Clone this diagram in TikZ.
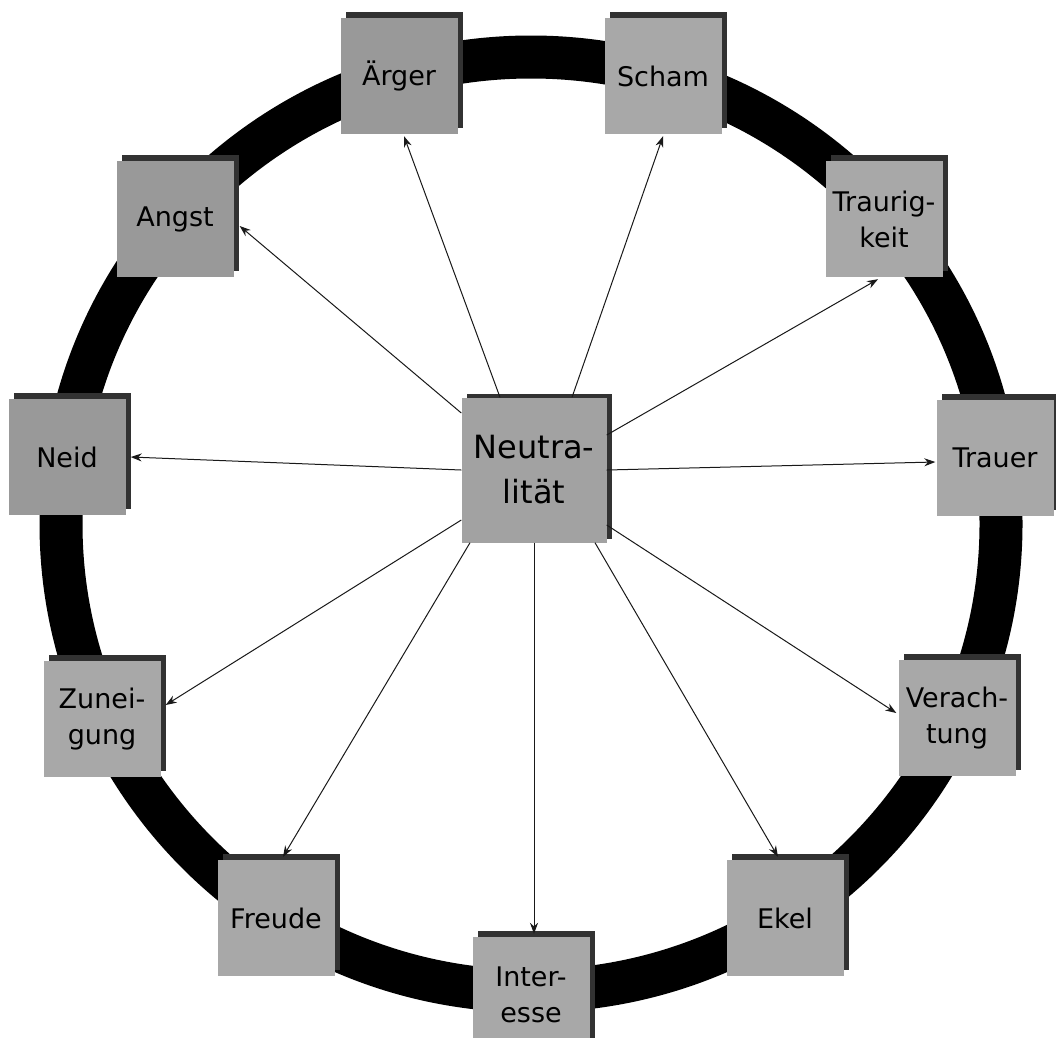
\documentclass[tikz,border=0pt]{standalone}
\usepackage{fontspec}
\setmainfont{DejaVu Sans}
\usetikzlibrary{shadows,arrows.meta,calc}
\definecolor{boxdark}{RGB}{153,153,153}
\definecolor{boxlight}{RGB}{168,168,168}
\definecolor{boxmid}{RGB}{162,162,162}
\definecolor{shadecol}{RGB}{50,50,50}
\begin{document}
\begin{tikzpicture}[x=1pt,y=-1pt,
  emobox/.style={rectangle, fill=boxlight, minimum width=117pt, minimum height=116pt,
    inner sep=0pt, align=center, font=\fontsize{27}{36}\selectfont,
    general shadow={fill=shadecol, shadow xshift=5pt, shadow yshift=6pt}},
  darkbox/.style={emobox, fill=boxdark},
  centerbox/.style={rectangle, fill=boxmid, minimum width=145pt, minimum height=145pt,
    inner sep=0pt, align=center, font=\fontsize{32}{45}\selectfont,
    general shadow={fill=shadecol, shadow xshift=5pt, shadow yshift=4pt}},
  arr/.style={-{Stealth[length=11pt,width=8pt]}, line width=1pt, draw=black!90},
  ring/.style={line width=43pt, draw=black}
]
\useasboundingbox (0,0) rectangle (1056,1037);
\clip (0,0) rectangle (1056,1037);
\fill[white] (0,0) rectangle (1056,1037);

\draw[ring] (531,524) ellipse [x radius=470pt, y radius=467pt];

\node[darkbox] (arg) at (399,76) {Ärger};
\node[emobox] (scham) at (663,76) {Scham};
\node[darkbox] (angst) at (175,219) {Angst};
\node[emobox] (traurig) at (884,219) {Traurig-\\keit};
\node[darkbox] (neid) at (67,457) {Neid};
\node[emobox] (trauer) at (995,458) {Trauer};
\node[emobox] (zun) at (102,719) {Zunei-\\gung};
\node[emobox] (ver) at (957,718) {Verach-\\tung};
\node[emobox] (freude) at (276,918) {Freude};
\node[emobox] (ekel) at (785,918) {Ekel};
\node[emobox] (int) at (531,995) {Inter-\\esse};
\node[centerbox] (neu) at (534,470) {Neutra-\\lität};

\draw[arr] ($(neu.north)+(-34,0)$) -- ($(arg.south)+(5,2)$);
\draw[arr] ($(neu.north)+(38,0)$) -- ($(scham.south)+(0,2)$);
\draw[arr] ($(neu.west)+(0,-57)$) -- ($(angst.east)+(6,7)$);
\draw[arr] ($(neu.east)+(0,-35)$) -- ($(traurig.south)+(-6,2)$);
\draw[arr] (neu.west) -- ($(neid.east)+(5,0)$);
\draw[arr] (neu.east) -- ($(trauer.west)+(-1,4)$);
\draw[arr] ($(neu.west)+(0,50)$) -- ($(zun.east)+(5,-14)$);
\draw[arr] ($(neu.east)+(0,55)$) -- ($(ver.west)+(-2,-5)$);
\draw[arr] ($(neu.south)+(-64,0)$) -- ($(freude.north)+(7,-3)$);
\draw[arr] ($(neu.south)+(61,0)$) -- ($(ekel.north)+(-7,-3)$);
\draw[arr] (neu.south) -- ($(int.north)+(3,-3)$);
\end{tikzpicture}
\end{document}
